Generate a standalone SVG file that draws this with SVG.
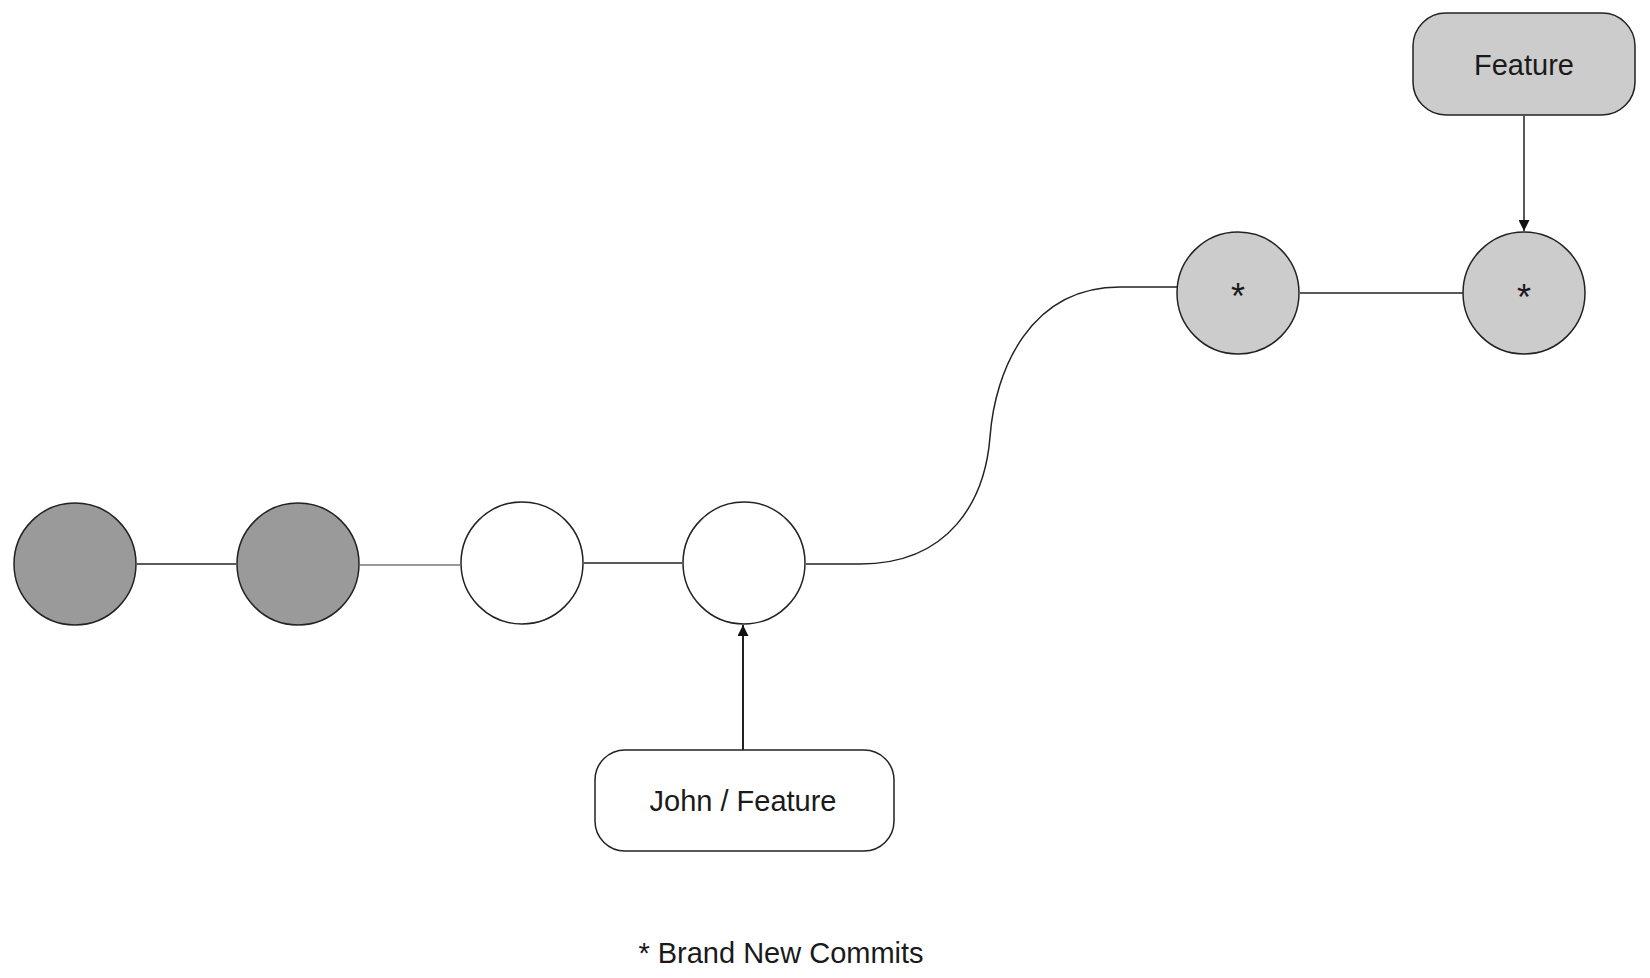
<svg xmlns="http://www.w3.org/2000/svg" width="1650" height="978" viewBox="0 0 1650 978">
  <defs>
    <style>
      .commit-old { fill: #9a9a9a; stroke: #222; stroke-width: 1.5; }
      .commit { fill: #ffffff; stroke: #222; stroke-width: 1.5; }
      .commit-new { fill: #cccccc; stroke: #222; stroke-width: 1.5; }
      .edge { fill: none; stroke: #222; stroke-width: 1.5; }
      .edge-light { fill: none; stroke: #777; stroke-width: 1.5; }
      .label { font-family: "Liberation Sans", Arial, sans-serif; font-size: 29px; fill: #1a1a1a; text-anchor: middle; }
      .star { font-family: "Liberation Sans", Arial, sans-serif; font-size: 36px; fill: #1a1a1a; text-anchor: middle; }
    </style>
    <marker id="arrow" viewBox="0 0 10 10" refX="10" refY="5" markerWidth="11" markerHeight="11" markerUnits="userSpaceOnUse" orient="auto">
      <path d="M0,0 L10,5 L0,10 Z" fill="#111"/>
    </marker>
  </defs>
  <rect width="1650" height="978" fill="#ffffff"/>

  <g id="connectors">
    <line class="edge" x1="137" y1="564" x2="236" y2="564"/>
    <line class="edge-light" x1="360" y1="565" x2="460" y2="565"/>
    <line class="edge" x1="584" y1="563" x2="682" y2="563"/>
    <path class="edge" d="M 806 564 L 860 564 C 950 564, 985 500, 990 437 C 995 370, 1030 287, 1120 287 L 1177 287"/>
    <line class="edge" x1="1300" y1="293" x2="1463" y2="293"/>
    <line class="edge" x1="743" y1="750" x2="743" y2="625" marker-end="url(#arrow)" style="stroke-width:2"/>
    <line class="edge" x1="1524" y1="116" x2="1524" y2="231" marker-end="url(#arrow)"/>
  </g>

  <g id="c1"><circle class="commit-old" cx="75" cy="564" r="61"/></g>
  <g id="c2"><circle class="commit-old" cx="298" cy="564" r="61"/></g>
  <g id="c3"><circle class="commit" cx="522" cy="563" r="61"/></g>
  <g id="c4"><circle class="commit" cx="744" cy="563" r="61"/></g>
  <g id="c5"><circle class="commit-new" cx="1238" cy="293" r="61"/><text class="star" x="1238" y="309">*</text></g>
  <g id="c6"><circle class="commit-new" cx="1524" cy="293" r="61"/><text class="star" x="1524" y="310">*</text></g>

  <g id="john-feature">
    <rect x="595" y="750" width="299" height="101" rx="30" ry="30" fill="#ffffff" stroke="#222" stroke-width="1.5"/>
    <text class="label" x="743" y="811">John / Feature</text>
  </g>

  <g id="feature">
    <rect x="1413" y="13" width="222" height="102" rx="33" ry="33" fill="#cccccc" stroke="#222" stroke-width="1.5"/>
    <text class="label" x="1524" y="75">Feature</text>
  </g>

  <g id="legend">
    <text class="label" x="781" y="963">* Brand New Commits</text>
  </g>
</svg>
